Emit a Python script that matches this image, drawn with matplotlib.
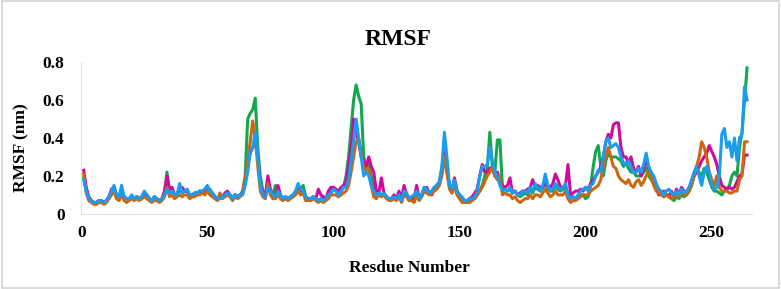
import numpy as np
import matplotlib
matplotlib.use("Agg")
import matplotlib.pyplot as plt

# RMSF per residue (nm)
blue = [
    0.18, 0.12, 0.08, 0.07, 0.06, 0.06, 0.07, 0.07, 0.06, 0.07, 0.09, 0.12, 0.15, 0.10, 0.09, 0.15, 0.09, 0.08, 0.08, 0.10,
    0.08, 0.09, 0.08, 0.09, 0.12, 0.10, 0.08, 0.07, 0.09, 0.08, 0.07, 0.08, 0.10, 0.13, 0.11, 0.12, 0.10, 0.10, 0.16, 0.11,
    0.12, 0.13, 0.10, 0.10, 0.11, 0.11, 0.12, 0.12, 0.13, 0.15, 0.12, 0.11, 0.09, 0.08, 0.08, 0.09, 0.10, 0.11, 0.10, 0.08,
    0.10, 0.09, 0.10, 0.10, 0.15, 0.22, 0.33, 0.35, 0.43, 0.30, 0.15, 0.10, 0.09, 0.14, 0.12, 0.10, 0.09, 0.12, 0.10, 0.08,
    0.09, 0.08, 0.09, 0.10, 0.12, 0.16, 0.13, 0.12, 0.09, 0.08, 0.08, 0.09, 0.08, 0.07, 0.08, 0.07, 0.08, 0.10, 0.11, 0.13,
    0.12, 0.10, 0.12, 0.14, 0.14, 0.18, 0.28, 0.38, 0.50, 0.40, 0.30, 0.20, 0.22, 0.20, 0.15, 0.12, 0.10, 0.11, 0.10, 0.11,
    0.09, 0.08, 0.08, 0.09, 0.08, 0.10, 0.07, 0.12, 0.11, 0.08, 0.09, 0.10, 0.12, 0.08, 0.10, 0.14, 0.13, 0.11, 0.12, 0.14,
    0.15, 0.17, 0.25, 0.43, 0.30, 0.15, 0.13, 0.18, 0.12, 0.10, 0.09, 0.07, 0.07, 0.08, 0.08, 0.09, 0.12, 0.20, 0.25, 0.25,
    0.26, 0.35, 0.28, 0.22, 0.20, 0.15, 0.12, 0.13, 0.12, 0.14, 0.11, 0.12, 0.10, 0.10, 0.12, 0.12, 0.11, 0.14, 0.12, 0.16,
    0.14, 0.12, 0.15, 0.21, 0.15, 0.12, 0.13, 0.16, 0.14, 0.13, 0.14, 0.16, 0.10, 0.08, 0.09, 0.08, 0.10, 0.12, 0.13, 0.14,
    0.12, 0.15, 0.16, 0.20, 0.23, 0.22, 0.30, 0.38, 0.40, 0.35, 0.36, 0.37, 0.35, 0.30, 0.27, 0.26, 0.28, 0.25, 0.22, 0.22,
    0.24, 0.22, 0.26, 0.32, 0.25, 0.22, 0.20, 0.16, 0.13, 0.12, 0.10, 0.12, 0.13, 0.11, 0.10, 0.12, 0.10, 0.13, 0.11, 0.12,
    0.14, 0.18, 0.22, 0.25, 0.20, 0.15, 0.22, 0.25, 0.22, 0.15, 0.13, 0.14, 0.20, 0.42, 0.45, 0.35, 0.38, 0.30, 0.40, 0.28,
    0.40, 0.42, 0.67, 0.60,
]

green = [
    0.19, 0.12, 0.08, 0.07, 0.06, 0.06, 0.07, 0.07, 0.06, 0.07, 0.09, 0.11, 0.13, 0.10, 0.09, 0.13, 0.09, 0.08, 0.08, 0.09,
    0.08, 0.09, 0.08, 0.09, 0.11, 0.10, 0.08, 0.07, 0.09, 0.08, 0.07, 0.08, 0.10, 0.22, 0.12, 0.12, 0.10, 0.10, 0.14, 0.11,
    0.12, 0.12, 0.10, 0.10, 0.11, 0.11, 0.12, 0.12, 0.13, 0.14, 0.13, 0.11, 0.09, 0.08, 0.08, 0.09, 0.10, 0.11, 0.10, 0.08,
    0.10, 0.09, 0.10, 0.12, 0.20, 0.50, 0.53, 0.55, 0.61, 0.35, 0.20, 0.12, 0.10, 0.15, 0.12, 0.10, 0.15, 0.10, 0.09, 0.08,
    0.09, 0.08, 0.09, 0.10, 0.12, 0.14, 0.13, 0.15, 0.09, 0.08, 0.08, 0.09, 0.08, 0.07, 0.08, 0.07, 0.08, 0.10, 0.12, 0.13,
    0.12, 0.11, 0.12, 0.14, 0.20, 0.30, 0.45, 0.60, 0.68, 0.62, 0.58, 0.30, 0.25, 0.27, 0.20, 0.13, 0.10, 0.11, 0.10, 0.11,
    0.09, 0.08, 0.08, 0.09, 0.08, 0.10, 0.07, 0.11, 0.10, 0.07, 0.08, 0.07, 0.12, 0.08, 0.10, 0.14, 0.12, 0.11, 0.12, 0.14,
    0.15, 0.17, 0.24, 0.35, 0.25, 0.15, 0.11, 0.16, 0.12, 0.10, 0.08, 0.07, 0.06, 0.07, 0.08, 0.08, 0.10, 0.12, 0.15, 0.20,
    0.24, 0.43, 0.25, 0.22, 0.39, 0.39, 0.14, 0.13, 0.12, 0.13, 0.11, 0.12, 0.10, 0.09, 0.10, 0.11, 0.10, 0.13, 0.11, 0.14,
    0.13, 0.12, 0.14, 0.16, 0.13, 0.12, 0.12, 0.15, 0.13, 0.12, 0.13, 0.14, 0.10, 0.08, 0.09, 0.08, 0.09, 0.10, 0.10, 0.08,
    0.09, 0.15, 0.25, 0.33, 0.36, 0.25, 0.20, 0.28, 0.32, 0.30, 0.30, 0.30, 0.29, 0.28, 0.25, 0.27, 0.24, 0.22, 0.22, 0.20,
    0.20, 0.20, 0.22, 0.24, 0.20, 0.18, 0.16, 0.13, 0.11, 0.10, 0.09, 0.10, 0.10, 0.08, 0.07, 0.09, 0.08, 0.10, 0.09, 0.10,
    0.12, 0.15, 0.20, 0.24, 0.22, 0.20, 0.24, 0.22, 0.18, 0.14, 0.12, 0.12, 0.11, 0.10, 0.12, 0.13, 0.15, 0.20, 0.22, 0.20,
    0.35, 0.43, 0.60, 0.77,
]

magenta = [
    0.23, 0.14, 0.09, 0.07, 0.06, 0.06, 0.07, 0.07, 0.06, 0.07, 0.09, 0.13, 0.14, 0.10, 0.09, 0.12, 0.09, 0.08, 0.08, 0.09,
    0.08, 0.09, 0.08, 0.09, 0.11, 0.10, 0.08, 0.07, 0.09, 0.08, 0.07, 0.08, 0.12, 0.20, 0.13, 0.14, 0.10, 0.10, 0.13, 0.14,
    0.12, 0.12, 0.10, 0.10, 0.11, 0.11, 0.12, 0.11, 0.12, 0.13, 0.12, 0.11, 0.09, 0.08, 0.08, 0.09, 0.11, 0.12, 0.10, 0.08,
    0.10, 0.09, 0.10, 0.11, 0.18, 0.25, 0.32, 0.35, 0.38, 0.30, 0.15, 0.12, 0.10, 0.20, 0.13, 0.10, 0.09, 0.15, 0.10, 0.08,
    0.09, 0.08, 0.09, 0.10, 0.11, 0.13, 0.12, 0.12, 0.09, 0.08, 0.08, 0.09, 0.08, 0.13, 0.10, 0.09, 0.08, 0.12, 0.14, 0.14,
    0.13, 0.12, 0.14, 0.15, 0.17, 0.25, 0.35, 0.50, 0.42, 0.38, 0.30, 0.28, 0.25, 0.30, 0.25, 0.22, 0.12, 0.11, 0.19, 0.11,
    0.09, 0.08, 0.08, 0.10, 0.08, 0.12, 0.08, 0.15, 0.10, 0.08, 0.09, 0.08, 0.15, 0.08, 0.10, 0.12, 0.14, 0.11, 0.10, 0.13,
    0.15, 0.16, 0.22, 0.32, 0.22, 0.15, 0.13, 0.19, 0.12, 0.10, 0.08, 0.07, 0.07, 0.08, 0.09, 0.11, 0.13, 0.20, 0.26, 0.22,
    0.22, 0.24, 0.25, 0.20, 0.22, 0.18, 0.15, 0.14, 0.15, 0.19, 0.11, 0.12, 0.10, 0.11, 0.12, 0.12, 0.13, 0.14, 0.18, 0.14,
    0.15, 0.14, 0.14, 0.16, 0.15, 0.14, 0.16, 0.21, 0.18, 0.14, 0.14, 0.15, 0.26, 0.10, 0.11, 0.12, 0.12, 0.13, 0.12, 0.14,
    0.13, 0.16, 0.18, 0.20, 0.22, 0.25, 0.30, 0.38, 0.42, 0.40, 0.47, 0.48, 0.48, 0.35, 0.30, 0.30, 0.27, 0.30, 0.24, 0.22,
    0.25, 0.20, 0.24, 0.28, 0.24, 0.20, 0.18, 0.14, 0.10, 0.11, 0.12, 0.10, 0.09, 0.12, 0.09, 0.13, 0.10, 0.14, 0.12, 0.11,
    0.13, 0.16, 0.20, 0.22, 0.25, 0.28, 0.30, 0.32, 0.36, 0.33, 0.30, 0.26, 0.20, 0.15, 0.14, 0.13, 0.14, 0.13, 0.14, 0.17,
    0.20, 0.21, 0.31, 0.31,
]

orange = [
    0.21, 0.11, 0.07, 0.06, 0.05, 0.05, 0.06, 0.06, 0.05, 0.06, 0.08, 0.10, 0.12, 0.08, 0.07, 0.10, 0.07, 0.06, 0.07, 0.08,
    0.07, 0.08, 0.07, 0.08, 0.09, 0.08, 0.07, 0.06, 0.07, 0.07, 0.06, 0.07, 0.09, 0.14, 0.09, 0.10, 0.08, 0.09, 0.10, 0.09,
    0.10, 0.10, 0.08, 0.09, 0.09, 0.10, 0.10, 0.11, 0.10, 0.12, 0.10, 0.09, 0.08, 0.07, 0.11, 0.08, 0.09, 0.10, 0.09, 0.07,
    0.09, 0.08, 0.09, 0.11, 0.18, 0.28, 0.38, 0.49, 0.40, 0.25, 0.12, 0.09, 0.08, 0.16, 0.10, 0.08, 0.08, 0.10, 0.08, 0.07,
    0.08, 0.07, 0.08, 0.09, 0.10, 0.12, 0.10, 0.11, 0.07, 0.07, 0.07, 0.08, 0.07, 0.06, 0.07, 0.06, 0.07, 0.08, 0.10, 0.10,
    0.10, 0.09, 0.10, 0.11, 0.12, 0.15, 0.22, 0.30, 0.38, 0.40, 0.32, 0.24, 0.23, 0.24, 0.15, 0.09, 0.08, 0.10, 0.09, 0.10,
    0.08, 0.07, 0.07, 0.08, 0.07, 0.09, 0.06, 0.10, 0.09, 0.07, 0.07, 0.06, 0.10, 0.07, 0.09, 0.12, 0.11, 0.10, 0.11, 0.12,
    0.13, 0.15, 0.20, 0.30, 0.22, 0.13, 0.11, 0.15, 0.10, 0.08, 0.06, 0.06, 0.06, 0.06, 0.07, 0.08, 0.10, 0.12, 0.14, 0.17,
    0.20, 0.22, 0.25, 0.20, 0.18, 0.20, 0.10, 0.11, 0.10, 0.10, 0.08, 0.09, 0.07, 0.06, 0.07, 0.08, 0.08, 0.10, 0.08, 0.10,
    0.10, 0.09, 0.11, 0.13, 0.11, 0.09, 0.10, 0.12, 0.10, 0.10, 0.10, 0.12, 0.08, 0.06, 0.07, 0.07, 0.08, 0.09, 0.10, 0.10,
    0.10, 0.12, 0.13, 0.14, 0.15, 0.18, 0.25, 0.30, 0.35, 0.30, 0.25, 0.24, 0.20, 0.18, 0.17, 0.16, 0.18, 0.15, 0.14, 0.17,
    0.18, 0.15, 0.17, 0.20, 0.23, 0.19, 0.15, 0.12, 0.11, 0.10, 0.09, 0.10, 0.09, 0.08, 0.09, 0.10, 0.09, 0.11, 0.10, 0.10,
    0.12, 0.15, 0.20, 0.25, 0.30, 0.38, 0.35, 0.30, 0.22, 0.18, 0.15, 0.20, 0.14, 0.12, 0.12, 0.12, 0.11, 0.11, 0.12, 0.12,
    0.18, 0.20, 0.38, 0.38,
]

residues = np.arange(1, len(blue) + 1)

series = [
    (green, "#12A84C"),
    (magenta, "#CF0B9C"),
    (orange, "#CC670F"),
    (blue, "#1A9CF0"),
]

plt.rcParams["font.family"] = ["Liberation Serif", "DejaVu Serif"]
plt.rcParams["font.weight"] = "bold"

fig = plt.figure(figsize=(7.81, 2.89), dpi=100)
ax = fig.add_axes([0.104, 0.26, 0.859, 0.525])

for vals, col in series:
    ax.plot(residues, vals, color=col, linewidth=2.2, solid_joinstyle="round")

ax.set_xlim(0, 266)
ax.set_ylim(0, 0.8)
ax.set_xticks([0, 50, 100, 150, 200, 250])
ax.set_yticks([0, 0.2, 0.4, 0.6, 0.8])
ax.set_yticklabels(["0", "0.2", "0.4", "0.6", "0.8"])
ax.tick_params(axis="both", length=0, labelsize=12.5)
ax.tick_params(axis="x", pad=8)
ax.tick_params(axis="y", pad=12)
for lab in ax.get_xticklabels() + ax.get_yticklabels():
    lab.set_fontweight("bold")

for side in ["top", "right"]:
    ax.spines[side].set_visible(False)
for side in ["left", "bottom"]:
    ax.spines[side].set_color("#E3E3E3")
    ax.spines[side].set_linewidth(0.8)

fig.text(0.51, 0.862, "RMSF", ha="center", va="center", fontsize=17, fontweight="bold")
fig.text(0.524, 0.073, "Resdue Number", ha="center", va="center", fontsize=12.5, fontweight="bold")
fig.text(0.027, 0.49, "RMSF (nm)", ha="center", va="center", rotation=90, fontsize=12.5, fontweight="bold")

# thin grey frame round the whole picture
fig.patches.append(plt.Rectangle((0.002, 0.003), 0.996, 0.994, transform=fig.transFigure,
                                 fill=False, edgecolor="#D4D4D4", linewidth=1.2))

fig.savefig("out.png", dpi=100)
